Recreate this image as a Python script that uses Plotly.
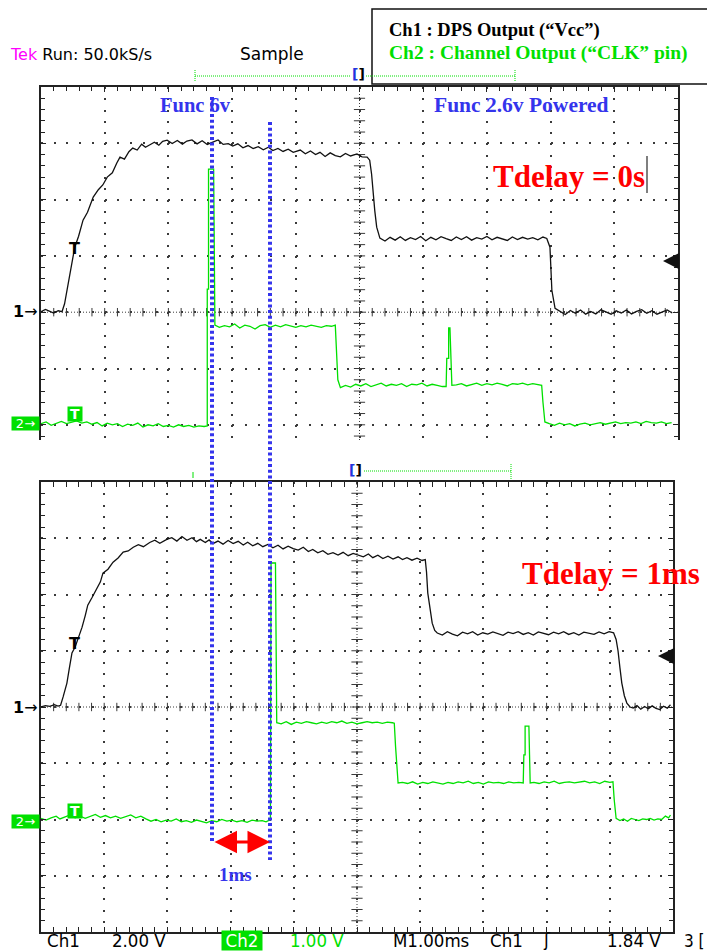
import plotly.graph_objects as go

W, H = 707, 952

# Upper capture (Tdelay = 0s)
ch1_top_t = [0.00, 0.07, 0.13, 0.20, 0.27, 0.33, 0.37, 0.42, 0.47, 0.53, 0.59, 0.66, 0.73, 0.82, 0.90, 0.97,
             1.04, 1.12, 1.19, 1.24, 1.31, 1.38, 1.44, 1.51, 1.58, 1.64, 1.71, 1.78, 1.85, 1.91, 1.98, 2.06,
             2.14, 2.22, 2.29, 2.37, 2.45, 2.53, 2.61, 2.70, 2.78, 2.86, 2.94, 3.01, 3.09, 3.17, 3.25, 3.33,
             3.41, 3.49, 3.57, 3.64, 3.72, 3.80, 3.88, 3.96, 4.07, 4.15, 4.23, 4.31, 4.38, 4.46, 4.54, 4.62,
             4.70, 4.78, 4.86, 4.96, 5.04, 5.12, 5.16, 5.19, 5.21, 5.24, 5.27, 5.32, 5.40, 5.48, 5.56, 5.64,
             5.72, 5.80, 5.88, 5.96, 6.04, 6.12, 6.20, 6.28, 6.36, 6.44, 6.52, 6.60, 6.68, 6.76, 6.84, 6.92,
             7.00, 7.08, 7.16, 7.24, 7.32, 7.40, 7.48, 7.56, 7.64, 7.72, 7.80, 7.88, 7.94, 7.99, 8.02, 8.07,
             8.15, 8.23, 8.31, 8.39, 8.47, 8.55, 8.63, 8.71, 8.79, 8.87, 8.95, 9.03, 9.11, 9.19, 9.27, 9.35,
             9.43, 9.51, 9.59, 9.67, 9.75, 9.83, 9.91]
ch1_top_v = [0.02, 0.10, 0.04, -0.03, 0.05, 0.02, 0.30, 0.89, 1.60, 2.31, 2.70, 3.27, 3.55, 4.09, 4.35, 4.52,
             4.80, 4.95, 5.30, 5.51, 5.44, 5.70, 5.83, 5.76, 5.97, 5.86, 5.95, 6.04, 5.93, 6.07, 6.11, 5.99,
             6.10, 5.97, 6.08, 6.12, 5.98, 6.09, 5.96, 6.06, 6.12, 5.96, 5.99, 5.90, 5.98, 5.84, 5.92, 5.81,
             5.88, 5.77, 5.86, 5.74, 5.82, 5.71, 5.79, 5.68, 5.76, 5.63, 5.73, 5.60, 5.68, 5.53, 5.66, 5.56,
             5.52, 5.64, 5.55, 5.62, 5.52, 5.51, 5.40, 4.90, 4.33, 3.60, 3.02, 2.63, 2.53, 2.66, 2.56, 2.68,
             2.55, 2.65, 2.58, 2.69, 2.54, 2.66, 2.57, 2.68, 2.61, 2.55, 2.67, 2.58, 2.68, 2.56, 2.65, 2.60,
             2.69, 2.57, 2.66, 2.61, 2.55, 2.67, 2.58, 2.66, 2.60, 2.65, 2.57, 2.67, 2.62, 2.31, 0.78, 0.14,
             0.02, -0.08, 0.06, -0.04, 0.08, -0.07, 0.03, -0.06, 0.09, 0.00, -0.07, 0.05, -0.03, 0.08, -0.06, 0.03,
             0.09, -0.04, 0.05, -0.07, 0.02, 0.08, -0.03]

ch2_top_t = [0.00, 0.08, 0.16, 0.24, 0.32, 0.40, 0.48, 0.56, 0.64, 0.72, 0.80, 0.88, 0.96, 1.04, 1.12, 1.20,
             1.28, 1.36, 1.44, 1.52, 1.60, 1.68, 1.76, 1.84, 1.92, 2.00, 2.08, 2.16, 2.24, 2.32, 2.40, 2.48,
             2.56, 2.61, 2.61, 2.63, 2.63, 2.71, 2.73, 2.80, 2.88, 2.96, 3.04, 3.12, 3.20, 3.28, 3.36, 3.44,
             3.52, 3.60, 3.68, 3.76, 3.84, 3.92, 4.00, 4.08, 4.16, 4.24, 4.32, 4.40, 4.48, 4.56, 4.62, 4.64,
             4.66, 4.70, 4.78, 4.86, 4.94, 5.02, 5.10, 5.18, 5.26, 5.34, 5.42, 5.50, 5.58, 5.66, 5.74, 5.82,
             5.90, 5.98, 6.06, 6.14, 6.22, 6.30, 6.36, 6.37, 6.40, 6.40, 6.42, 6.44, 6.45, 6.52, 6.60, 6.68,
             6.76, 6.84, 6.92, 7.00, 7.08, 7.16, 7.24, 7.32, 7.40, 7.48, 7.56, 7.64, 7.72, 7.80, 7.86, 7.88,
             7.91, 7.98, 8.06, 8.14, 8.22, 8.30, 8.38, 8.46, 8.54, 8.62, 8.70, 8.78, 8.86, 8.94, 9.02, 9.10,
             9.18, 9.26, 9.34, 9.42, 9.50, 9.58, 9.66, 9.74, 9.82, 9.90]
ch2_top_v = [0.02, 0.05, -0.01, 0.03, 0.06, 0.02, 0.04, 0.07, 0.03, 0.05, 0.01, 0.04, -0.02, 0.03, 0.00, 0.02,
             -0.03, 0.01, -0.01, 0.03, -0.04, 0.00, -0.02, 0.02, -0.03, -0.01, -0.04, 0.00, -0.03, -0.01, -0.04, -0.02,
             -0.03, -0.02, 2.41, 2.41, 4.54, 4.54, 1.77, 1.73, 1.76, 1.74, 1.79, 1.72, 1.77, 1.75, 1.70, 1.76,
             1.78, 1.73, 1.77, 1.74, 1.78, 1.75, 1.73, 1.76, 1.74, 1.77, 1.75, 1.73, 1.76, 1.75, 1.77, 1.20,
             0.80, 0.66, 0.70, 0.67, 0.72, 0.69, 0.73, 0.68, 0.71, 0.74, 0.69, 0.72, 0.70, 0.73, 0.68, 0.72,
             0.71, 0.74, 0.69, 0.72, 0.70, 0.68, 0.68, 1.18, 1.18, 1.72, 1.72, 1.18, 0.70, 0.71, 0.73, 0.69,
             0.72, 0.74, 0.70, 0.73, 0.71, 0.74, 0.72, 0.69, 0.73, 0.72, 0.74, 0.71, 0.73, 0.72, 0.70, 0.40,
             0.05, 0.02, -0.01, 0.03, 0.00, 0.02, -0.02, 0.01, 0.03, 0.00, 0.02, 0.04, 0.01, 0.03, 0.05, 0.02,
             0.04, 0.03, 0.05, 0.02, 0.06, 0.04, 0.03, 0.05, 0.02, 0.04]

# Lower capture (Tdelay = 1ms)
ch1_bot_t = [0.00, 0.07, 0.14, 0.21, 0.27, 0.31, 0.35, 0.41, 0.45, 0.49, 0.54, 0.59, 0.65, 0.70, 0.74, 0.81,
             0.89, 0.94, 0.98, 1.06, 1.14, 1.22, 1.30, 1.38, 1.46, 1.54, 1.62, 1.72, 1.80, 1.88, 1.99, 2.07,
             2.15, 2.23, 2.31, 2.39, 2.46, 2.52, 2.60, 2.66, 2.72, 2.80, 2.88, 2.96, 3.04, 3.12, 3.20, 3.27,
             3.35, 3.43, 3.51, 3.59, 3.67, 3.75, 3.83, 3.91, 3.99, 4.07, 4.15, 4.23, 4.30, 4.38, 4.46, 4.54,
             4.62, 4.70, 4.78, 4.86, 4.94, 5.02, 5.10, 5.18, 5.25, 5.33, 5.41, 5.49, 5.57, 5.65, 5.72, 5.79,
             5.87, 5.95, 6.03, 6.08, 6.10, 6.12, 6.15, 6.19, 6.23, 6.27, 6.35, 6.43, 6.51, 6.59, 6.67, 6.75,
             6.83, 6.91, 6.99, 7.07, 7.15, 7.23, 7.31, 7.39, 7.47, 7.55, 7.63, 7.71, 7.79, 7.87, 7.95, 8.03,
             8.11, 8.19, 8.27, 8.35, 8.43, 8.51, 8.59, 8.67, 8.75, 8.83, 8.91, 8.99, 9.06, 9.10, 9.13, 9.16,
             9.19, 9.23, 9.27, 9.32, 9.37, 9.43, 9.49, 9.55, 9.61, 9.67, 9.73, 9.79, 9.85, 9.91, 9.96]
ch1_bot_v = [0.00, 0.05, 0.02, 0.08, 0.03, 0.06, 0.36, 0.85, 1.40, 1.92, 2.13, 2.45, 2.84, 3.25, 3.62, 3.90,
             4.26, 4.45, 4.76, 4.90, 5.15, 5.30, 5.51, 5.55, 5.68, 5.77, 5.70, 5.85, 5.93, 5.82, 5.96, 6.02,
             5.90, 6.06, 5.93, 6.02, 5.88, 5.96, 5.85, 5.94, 5.81, 5.90, 5.79, 5.92, 5.81, 5.89, 5.76, 5.86,
             5.73, 5.82, 5.70, 5.78, 5.66, 5.75, 5.62, 5.72, 5.63, 5.58, 5.68, 5.53, 5.60, 5.48, 5.56, 5.43,
             5.49, 5.40, 5.50, 5.38, 5.46, 5.39, 5.34, 5.44, 5.31, 5.40, 5.28, 5.36, 5.26, 5.34, 5.24, 5.31,
             5.22, 5.29, 5.21, 5.24, 4.80, 4.05, 3.50, 2.98, 2.72, 2.63, 2.56, 2.68, 2.59, 2.53, 2.66, 2.60,
             2.68, 2.56, 2.64, 2.59, 2.67, 2.60, 2.55, 2.66, 2.61, 2.68, 2.58, 2.64, 2.56, 2.67, 2.61, 2.57,
             2.66, 2.60, 2.68, 2.58, 2.64, 2.56, 2.66, 2.61, 2.58, 2.67, 2.60, 2.68, 2.64, 2.40, 2.00, 1.40,
             0.85, 0.40, 0.14, 0.00, -0.04, 0.05, -0.08, 0.02, -0.06, 0.04, -0.05, -0.09, 0.03, -0.04, 0.08]

ch2_bot_t = [0.00, 0.08, 0.16, 0.24, 0.30, 0.38, 0.46, 0.54, 0.62, 0.70, 0.78, 0.86, 0.94, 1.02, 1.10, 1.18,
             1.26, 1.34, 1.42, 1.50, 1.58, 1.66, 1.74, 1.82, 1.90, 1.98, 2.06, 2.14, 2.22, 2.30, 2.38, 2.46,
             2.54, 2.62, 2.70, 2.78, 2.86, 2.94, 3.02, 3.10, 3.18, 3.26, 3.34, 3.42, 3.50, 3.56, 3.63, 3.64,
             3.71, 3.72, 3.73, 3.80, 3.88, 3.96, 4.04, 4.12, 4.20, 4.28, 4.36, 4.44, 4.52, 4.60, 4.68, 4.76,
             4.84, 4.92, 5.00, 5.08, 5.16, 5.24, 5.32, 5.40, 5.48, 5.56, 5.59, 5.61, 5.63, 5.65, 5.72, 5.80,
             5.88, 5.96, 6.04, 6.12, 6.20, 6.28, 6.36, 6.44, 6.52, 6.60, 6.68, 6.76, 6.84, 6.92, 7.00, 7.08,
             7.16, 7.24, 7.32, 7.40, 7.48, 7.56, 7.63, 7.64, 7.66, 7.66, 7.72, 7.73, 7.74, 7.80, 7.88, 7.96,
             8.04, 8.12, 8.20, 8.28, 8.36, 8.44, 8.52, 8.60, 8.68, 8.76, 8.84, 8.92, 9.00, 9.05, 9.07, 9.10,
             9.16, 9.22, 9.28, 9.34, 9.40, 9.46, 9.52, 9.58, 9.64, 9.70, 9.76, 9.82, 9.88, 9.93, 9.96]
ch2_bot_v = [0.02, -0.01, 0.03, 0.06, 0.01, 0.04, 0.08, 0.03, 0.06, 0.02, 0.05, 0.09, 0.04, 0.07, 0.03, 0.06,
             0.02, 0.05, 0.08, 0.03, 0.06, 0.01, -0.03, 0.00, -0.04, -0.01, -0.03, 0.01, -0.04, -0.02, -0.05, -0.01,
             -0.03, -0.06, -0.02, -0.04, 0.00, -0.03, -0.01, -0.04, -0.02, -0.05, -0.01, -0.03, -0.02, -0.04, 0.00, 4.56,
             4.56, 3.00, 1.72, 1.70, 1.74, 1.69, 1.73, 1.71, 1.74, 1.72, 1.70, 1.73, 1.71, 1.74, 1.72, 1.75,
             1.71, 1.73, 1.70, 1.72, 1.74, 1.72, 1.73, 1.71, 1.73, 1.72, 1.71, 1.30, 0.90, 0.65, 0.66, 0.64,
             0.67, 0.63, 0.66, 0.64, 0.67, 0.65, 0.63, 0.66, 0.64, 0.67, 0.65, 0.68, 0.64, 0.66, 0.63, 0.67,
             0.65, 0.66, 0.64, 0.67, 0.65, 0.66, 0.65, 1.15, 1.15, 1.66, 1.66, 1.15, 0.65, 0.66, 0.64, 0.67,
             0.65, 0.68, 0.64, 0.66, 0.67, 0.65, 0.66, 0.68, 0.65, 0.67, 0.64, 0.68, 0.66, 0.67, 0.35, 0.02,
             -0.02, 0.01, -0.03, 0.02, 0.00, -0.02, 0.01, 0.00, 0.02, -0.01, 0.01, 0.00, 0.06, 0.03, 0.08]

for a, b in [(ch1_top_t, ch1_top_v), (ch2_top_t, ch2_top_v), (ch1_bot_t, ch1_bot_v), (ch2_bot_t, ch2_bot_v)]:
    assert len(a) == len(b), (len(a), len(b))

# scope status line labels
bottom_labels = ["Ch1", "2.00 V", "Ch2", "1.00 V", "M1.00ms", "Ch1", "ʃ", "1.84 V"]

# ---------------- styling ----------------
BLACK_TR = "#111111"
GREEN = "#00e000"
BLUE = "#3434ec"
RED = "#ff0000"
GRID = "#3a3a3a"
SANS = "DejaVu Sans"
NARROW = "Liberation Sans Narrow, DejaVu Sans Condensed, Roboto Condensed, Liberation Sans, sans-serif"
SERIF = "Liberation Serif"

def PX(x):
    return x / W

def PY(y):
    return 1 - y / H

# panel pixel boxes
TOP = dict(l=41, r=678, t=87, b=440)
BOT = dict(l=41, r=673, t=482, b=932)
top_div_px = 56.3
top_ymin_div = 4 - (TOP["b"] - TOP["t"]) / top_div_px
top_xstep = (TOP["r"] - TOP["l"]) / 10 * 0.2
bot_xstep = (BOT["r"] - BOT["l"]) / 10 * 0.2
bot_ystep = (BOT["b"] - BOT["t"]) / 8 * 0.2

fig = go.Figure()

# center-line tick marks (decorative graticule)
sub = [i * 0.2 for i in range(1, 50)]
vt = [j * 0.4 for j in range(-11, 20)]
vb = [j * 0.4 for j in range(-19, 20)]
for xa, ya, vv in [("x", "y", vt), ("x2", "y2", vb)]:
    fig.add_trace(go.Scatter(x=sub, y=[0] * len(sub), xaxis=xa, yaxis=ya, mode="markers",
                             marker=dict(symbol="line-ns", size=6, line=dict(width=1, color=GRID)),
                             hoverinfo="skip"))
    fig.add_trace(go.Scatter(x=[5] * len(vv), y=vv, xaxis=xa, yaxis=ya, mode="markers",
                             marker=dict(symbol="line-ew", size=8, line=dict(width=1, color=GRID)),
                             hoverinfo="skip"))

# waveforms
fig.add_trace(go.Scatter(x=ch1_top_t, y=ch1_top_v, xaxis="x", yaxis="y", mode="lines",
                         line=dict(color=BLACK_TR, width=1.3), hoverinfo="skip"))
fig.add_trace(go.Scatter(x=ch2_top_t, y=ch2_top_v, xaxis="x", yaxis="y3", mode="lines",
                         line=dict(color=GREEN, width=1.3), hoverinfo="skip"))
fig.add_trace(go.Scatter(x=ch1_bot_t, y=ch1_bot_v, xaxis="x2", yaxis="y2", mode="lines",
                         line=dict(color=BLACK_TR, width=1.3), hoverinfo="skip"))
fig.add_trace(go.Scatter(x=ch2_bot_t, y=ch2_bot_v, xaxis="x2", yaxis="y4", mode="lines",
                         line=dict(color=GREEN, width=1.3), hoverinfo="skip"))

axis_common = dict(showticklabels=False, zeroline=False, showline=True, linecolor="#222", linewidth=2,
                   ticks="inside", ticklen=5, tickwidth=1, tickcolor="#222", showgrid=True,
                   gridcolor=GRID, gridwidth=2, fixedrange=True)

fig.update_layout(
    width=W, height=H, autosize=False,
    margin=dict(l=0, r=0, t=0, b=0),
    paper_bgcolor="white", plot_bgcolor="white",
    showlegend=False, hovermode=False,
    xaxis=dict(axis_common, domain=[PX(TOP["l"]), PX(TOP["r"])], range=[0, 10], anchor="y", side="top",
               mirror=False, dtick=1, tick0=0,
               griddash=f"2px,{top_div_px * 0.2 - 2:.2f}px",
               minor=dict(dtick=0.2, ticks="inside", ticklen=4, tickcolor="#222", showgrid=False)),
    yaxis=dict(axis_common, domain=[PY(TOP["b"]), PY(TOP["t"])], range=[top_ymin_div * 2, 8], anchor="x",
               mirror="allticks", dtick=2, tick0=0,
               griddash=f"2px,{top_xstep - 2:.2f}px",
               minor=dict(dtick=0.4, ticks="inside", ticklen=4, tickcolor="#222", showgrid=False)),
    yaxis3=dict(overlaying="y", range=[top_ymin_div + 2, 6], visible=False, fixedrange=True),
    xaxis2=dict(axis_common, domain=[PX(BOT["l"]), PX(BOT["r"])], range=[0, 10], anchor="y2",
                mirror="allticks", dtick=1, tick0=0,
                griddash=f"2px,{bot_ystep - 2:.2f}px",
                minor=dict(dtick=0.2, ticks="inside", ticklen=4, tickcolor="#222", showgrid=False)),
    yaxis2=dict(axis_common, domain=[PY(BOT["b"]), PY(BOT["t"])], range=[-8, 8], anchor="x2",
                mirror="allticks", dtick=2, tick0=0,
                griddash=f"2px,{bot_xstep - 2:.2f}px",
                minor=dict(dtick=0.4, ticks="inside", ticklen=4, tickcolor="#222", showgrid=False)),
    yaxis4=dict(overlaying="y2", range=[-2, 6], visible=False, fixedrange=True),
)

shapes = []
# center crosshair dotted lines
for xr, yr, ylo, yhi in [("x", "y", top_ymin_div * 2, 8), ("x2", "y2", -8, 8)]:
    shapes.append(dict(type="line", xref=xr, yref=yr, x0=5, x1=5, y0=ylo, y1=yhi,
                       line=dict(color=GRID, width=1, dash="1px,2px"), layer="below"))
    shapes.append(dict(type="line", xref=xr, yref=yr, x0=0, x1=10, y0=0, y1=0,
                       line=dict(color=GRID, width=1, dash="1px,2px"), layer="below"))

def pline(x0, y0, x1, y1, color, width, dash="solid"):
    shapes.append(dict(type="line", xref="paper", yref="paper", x0=PX(x0), y0=PY(y0), x1=PX(x1), y1=PY(y1),
                       line=dict(color=color, width=width, dash=dash)))

# legend box
shapes.append(dict(type="rect", xref="paper", yref="paper", x0=PX(372), x1=PX(712), y0=PY(84), y1=PY(9),
                   line=dict(color="#111", width=1.5), fillcolor="white"))
# trigger-position bars
pline(195, 76, 351, 76, GREEN, 1, "1px,1px")
pline(366, 76, 515, 76, GREEN, 1, "1px,1px")
pline(195, 70, 195, 82, GREEN, 1, "1px,1px")
pline(515, 70, 515, 82, GREEN, 1, "1px,1px")
pline(364, 471, 511, 471, GREEN, 1, "1px,1px")
pline(511, 464, 511, 479, GREEN, 1, "1px,1px")
pline(193, 472, 193, 478, GREEN, 1)
# blue dotted cursors
pline(212, 97, 212, 842, BLUE, 4, "3px,2.7px")
pline(270, 122, 270, 860, BLUE, 4, "3px,2.7px")
# text cursor line next to Tdelay = 0s
pline(647, 156, 647, 193, "#555", 1.5)
fig.update_layout(shapes=shapes)

anns = []

def txt(text, x, y, size, color="black", family=SANS, xanchor="left", yanchor="middle", **kw):
    anns.append(dict(text=text, x=PX(x), y=PY(y), xref="paper", yref="paper", showarrow=False,
                     xanchor=xanchor, yanchor=yanchor, font=dict(size=size, color=color, family=family), **kw))

# header
txt("<span style='color:#ff00ff'>Tek</span> Run: 50.0kS/s", 8, 54, 16)
txt("Sample", 238, 54, 17)
txt("<b>Ch1 : DPS Output (“Vcc”)</b>", 387, 30, 18.5, family=SERIF)
txt("<b>Ch2 : Channel Output (“CLK” pin)</b>", 387, 53, 19.5, color=GREEN, family=SERIF)
txt("<b><span style='color:#2233dd'>[</span>]</b>", 358, 74, 14, xanchor="center")
txt("<b><span style='color:#2233dd'>[</span>]</b>", 356, 470, 14, xanchor="center")

# channel markers
for yy in (312, 707):
    txt("<b>1</b>→", 40, yy, 16, xanchor="right")
for yy in (423, 821):
    txt("2→", 40, yy, 13, color="white", xanchor="right", bgcolor=GREEN, borderpad=0, width=27, height=13)
# trigger "T" markers
txt("<b>T</b>", 74, 249, 16, xanchor="center")
txt("<b>T</b>", 74, 643, 16, xanchor="center")
txt("<b>T</b>", 75, 414, 14, color="white", xanchor="center", bgcolor=GREEN, borderpad=0, width=14, height=14)
txt("<b>T</b>", 75, 811, 14, color="white", xanchor="center", bgcolor=GREEN, borderpad=0, width=14, height=14)

# annotations on the captures
txt("<b>Func 6v</b>", 158, 105, 20.5, color=BLUE, family=SERIF)
txt("<b>Func 2.6v Powered</b>", 432, 105, 21.5, color=BLUE, family=SERIF)
txt("<b>Tdelay = 0s</b>", 491, 176, 31, color=RED, family=SERIF)
txt("<b>Tdelay = 1ms</b>", 520, 573, 31, color=RED, family=SERIF)
txt("<b>1ms</b>", 236, 874, 19, color=BLUE, family=SERIF, xanchor="center")

# bottom status line
SY = 940
txt(bottom_labels[0], 46, SY, 18.5, family=NARROW, borderpad=0)
txt(bottom_labels[1], 111, SY, 18.5, family=NARROW, borderpad=0)
txt(bottom_labels[2], 242, SY, 18.5, color="white", family=NARROW, xanchor="center",
    bgcolor=GREEN, borderpad=0, width=40, height=19)
txt(bottom_labels[3], 289, SY, 18.5, color=GREEN, family=NARROW, borderpad=0)
txt(bottom_labels[4], 392, SY, 18.5, family=NARROW, borderpad=0)
txt(bottom_labels[5], 489, SY, 18.5, family=NARROW, borderpad=0)
txt(bottom_labels[6], 542, SY, 17, family=SANS, borderpad=0)
txt(bottom_labels[7], 606, SY, 18.5, family=NARROW, borderpad=0)
txt("3 [", 683, 941, 17, family=NARROW, borderpad=0)

# red double arrow (1 ms)
anns.append(dict(x=PX(270), y=PY(842), xref="paper", yref="paper", ax=-57, ay=0, text="",
                 showarrow=True, arrowhead=2, arrowsize=1.5, arrowwidth=3, arrowcolor=RED,
                 arrowside="end+start", startarrowhead=2, startarrowsize=1.5))
# trigger level arrows
for xx, yy in [(663, 261), (658, 656)]:
    anns.append(dict(x=PX(xx), y=PY(yy), xref="paper", yref="paper", ax=15, ay=0, text="",
                     showarrow=True, arrowhead=2, arrowsize=1.3, arrowwidth=2.5, arrowcolor="#111"))

fig.update_layout(annotations=anns)

fig.write_html("out.html", config={"displayModeBar": False},
               post_script="document.body.style.margin='0';document.body.style.overflow='hidden';")
